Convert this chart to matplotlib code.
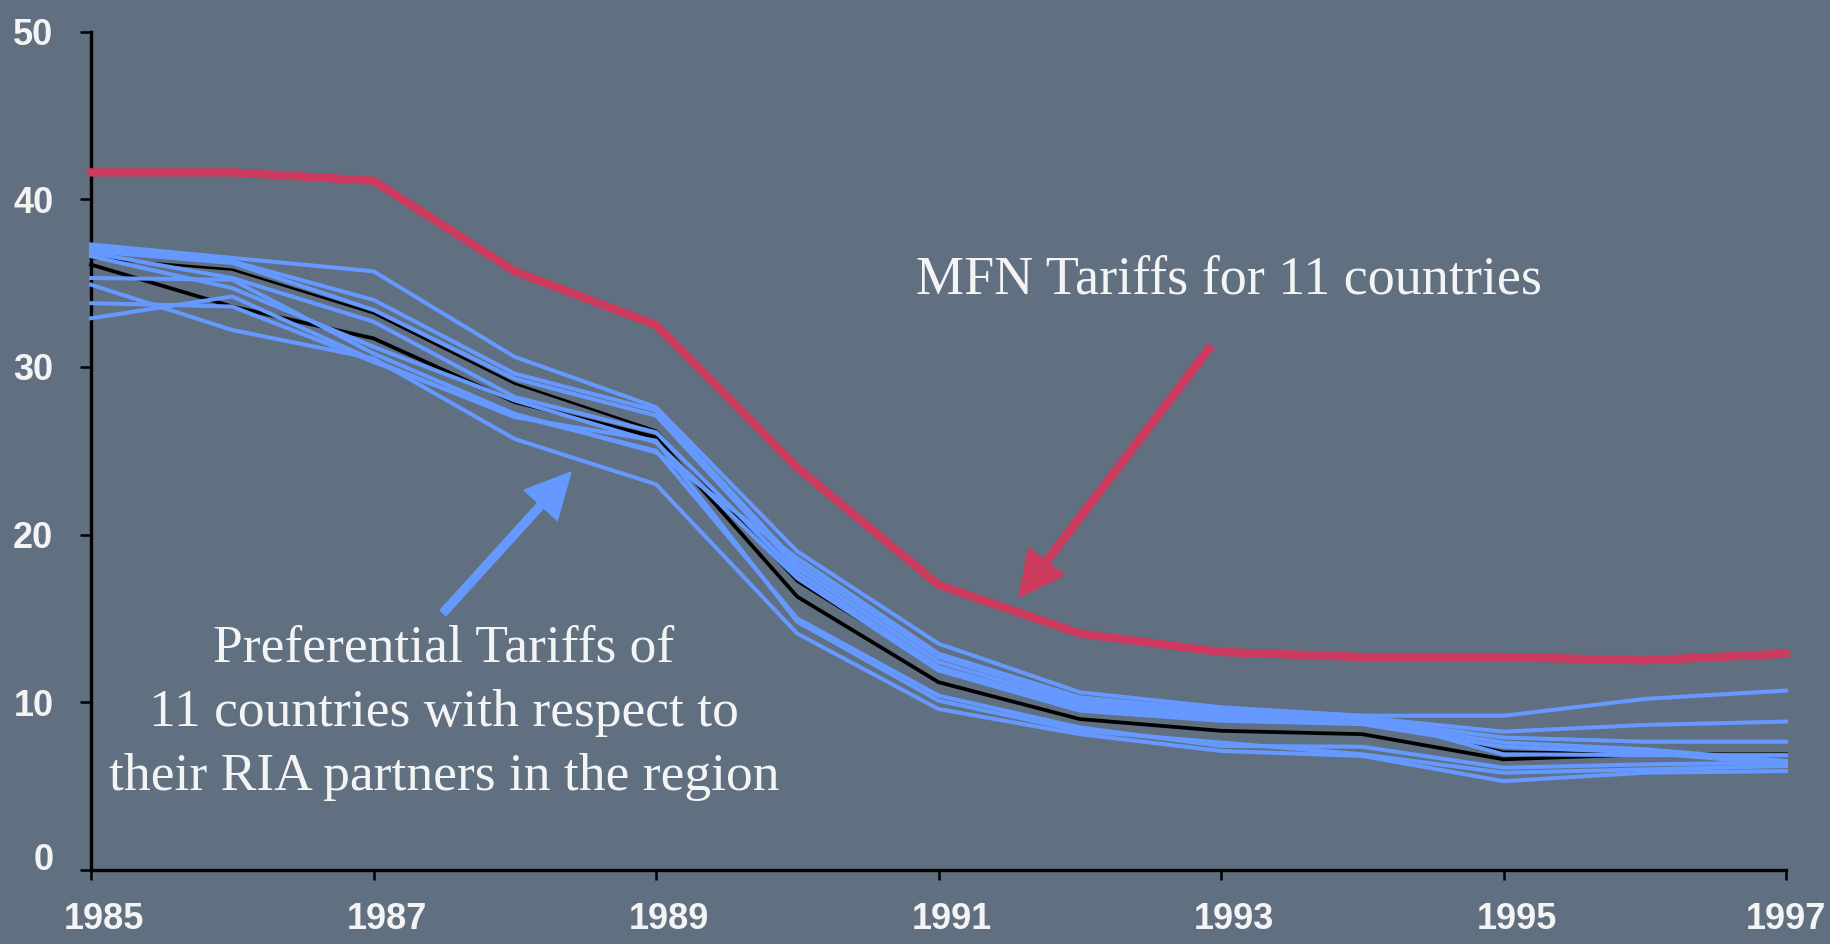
import matplotlib
matplotlib.use("Agg")
import matplotlib.pyplot as plt
from matplotlib.transforms import ScaledTranslation

BG_COLOR = "#607080"
MFN_RED = "#cc3a5e"
PREF_BLUE = "#6699ff"
TEXT_COLOR = "#f4f4f4"

W, H = 1831, 944

years = list(range(1985, 1998))
xtick_years = [1985, 1987, 1989, 1991, 1993, 1995, 1997]
yticks = [0, 10, 20, 30, 40, 50]

# MFN tariffs (average, 11 countries)
mfn = [41.6, 41.6, 41.1, 35.7, 32.5, 24.0, 17.0, 14.1, 13.0, 12.7, 12.7, 12.5, 12.9]

# preferential tariffs, one series per country
pref_1 = [37.3, 36.5, 35.7, 30.6, 27.6, 19.0, 13.5, 10.6, 9.7, 9.2, 9.2, 10.2, 10.7]
pref_2 = [37.1, 36.3, 34.0, 29.6, 27.4, 18.3, 12.7, 10.1, 9.5, 9.1, 8.25, 8.65, 8.85]
pref_3 = [36.9, 36.2, 33.4, 29.3, 27.1, 18.0, 12.4, 9.9, 9.3, 9.0, 7.9, 7.65, 7.65]
pref_4 = [36.8, 35.3, 32.7, 28.2, 26.1, 17.7, 12.1, 9.7, 9.1, 8.9, 7.6, 7.2, 6.5]
pref_5 = [36.6, 34.7, 31.2, 28.0, 25.5, 17.4, 11.9, 9.5, 8.9, 8.7, 7.35, 7.0, 6.3]
pref_6 = [35.3, 35.2, 30.8, 27.2, 24.9, 18.6, 12.9, 10.3, 9.5, 9.2, 6.9, 6.85, 6.85]
pref_7 = [34.9, 32.2, 30.5, 25.7, 23.0, 14.1, 9.6, 8.1, 7.1, 6.8, 5.3, 5.8, 5.9]
pref_8 = [33.8, 33.6, 30.3, 27.1, 25.0, 15.0, 10.4, 8.5, 7.4, 7.35, 6.1, 6.3, 6.4]
pref_9 = [32.9, 34.2, 30.4, 27.0, 25.6, 14.8, 10.1, 8.3, 7.6, 6.9, 5.8, 6.0, 6.2]

# black series (averages)
avg_main = [36.1, 33.6, 31.7, 27.9, 25.8, 16.3, 11.2, 9.0, 8.3, 8.1, 6.6, 6.9, 6.9]
avg_alt = [36.5, 35.8, 33.2, 29.0, 26.2, 17.2, 12.0, 9.8, 9.2, 8.95, 7.05, 6.95, 6.85]

pref_series = [pref_1, pref_2, pref_3, pref_4, pref_5, pref_6, pref_7, pref_8, pref_9]


def px(x, y):
    # reference pixel (top-left origin) -> figure pixels
    return (x, H - y)


fig = plt.figure(figsize=(W / 100, H / 100), dpi=100, facecolor=BG_COLOR)
ax = fig.add_axes([91 / W, 1 - 870 / H, (1786 - 91) / W, (870 - 31.5) / H])
ax.set_facecolor(BG_COLOR)

ax.plot(years, avg_alt, color="black", linewidth=1.8, zorder=2, clip_on=False)
ax.plot(years, avg_main, color="black", linewidth=2.7, zorder=2, clip_on=False)
for series in pref_series:
    ax.plot(years, series, color=PREF_BLUE, linewidth=2.9, zorder=3, clip_on=False)
ax.plot(years, mfn, color=MFN_RED, linewidth=6.0, zorder=4, clip_on=False)

ax.set_xlim(1985, 1997)
ax.set_ylim(0, 50)
ax.set_xticks(xtick_years)
ax.set_yticks(yticks)

ax.spines[["top", "right"]].set_visible(False)
for side in ["left", "bottom"]:
    ax.spines[side].set_linewidth(2.4)
    ax.spines[side].set_color("black")

ax.tick_params(axis="y", direction="out", length=8, width=1.8, pad=19,
               labelsize=26, labelcolor=TEXT_COLOR, color="black")
ax.tick_params(axis="x", direction="out", length=7, width=1.8, pad=16,
               labelsize=26, labelcolor=TEXT_COLOR, color="black")
for lab in ax.get_xticklabels() + ax.get_yticklabels():
    lab.set_fontweight("bold")
    lab.set_family("Liberation Sans")

# year labels sit a little right of their ticks, the last one stays at the edge
for lab in ax.get_xticklabels()[:-1]:
    lab.set_transform(lab.get_transform() + ScaledTranslation(0.13, 0, fig.dpi_scale_trans))
# the "0" label is lifted off the x axis
zero_lab = ax.get_yticklabels()[0]
zero_lab.set_transform(zero_lab.get_transform() + ScaledTranslation(0, 0.13, fig.dpi_scale_trans))

# MFN label and arrow
fig.text(1229 / W, 1 - 294 / H, "MFN Tariffs for 11 countries", ha="center",
         va="baseline", fontsize=39, family="Liberation Serif", color=TEXT_COLOR)
ax.annotate("", xy=px(1019, 597), xytext=px(1211, 346),
            xycoords="figure pixels", textcoords="figure pixels",
            arrowprops=dict(arrowstyle="simple,head_length=0.9,head_width=0.9,tail_width=0.15",
                            mutation_scale=36, color=MFN_RED, shrinkA=0, shrinkB=0),
            zorder=5)

# preferential label and arrow
pref_lines = ["Preferential Tariffs of",
              "11 countries with respect to",
              "their RIA partners in the region"]
pref_baselines = [661, 726, 790]
for line, base in zip(pref_lines, pref_baselines):
    fig.text(444 / W, 1 - base / H, line, ha="center", va="baseline",
             fontsize=38.5, family="Liberation Serif", color=TEXT_COLOR)
ax.annotate("", xy=px(571, 472), xytext=px(443, 613),
            xycoords="figure pixels", textcoords="figure pixels",
            arrowprops=dict(arrowstyle="simple,head_length=0.9,head_width=0.9,tail_width=0.16",
                            mutation_scale=36, color=PREF_BLUE, shrinkA=0, shrinkB=0),
            zorder=5)

fig.savefig("out.png", dpi=100, facecolor=BG_COLOR)
